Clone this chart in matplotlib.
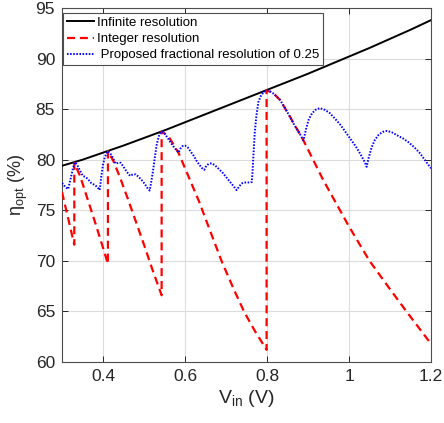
import matplotlib
matplotlib.use("Agg")
import matplotlib.pyplot as plt

plt.rcParams['font.family'] = ['Liberation Sans', 'DejaVu Sans']
plt.rcParams['mathtext.fontset'] = 'custom'
plt.rcParams['mathtext.rm'] = 'Liberation Sans'
plt.rcParams['mathtext.it'] = 'Liberation Sans:italic'

# ---- data ----
inf_v = [0.30, 0.35, 0.40, 0.45, 0.50, 0.55, 0.60, 0.65, 0.70, 0.75, 0.80,
         0.85, 0.90, 0.95, 1.00, 1.05, 1.10, 1.15, 1.20]
inf_eta = [79.4, 80.0, 80.7, 81.4, 82.15, 82.9, 83.7, 84.5, 85.3, 86.1, 86.9,
           87.7, 88.5, 89.35, 90.2, 91.05, 91.95, 92.85, 93.8]

int_v = [0.300, 0.315, 0.330, 0.330, 0.345, 0.360, 0.380, 0.400, 0.412, 0.412,
         0.425, 0.440, 0.460, 0.480, 0.500, 0.520, 0.543, 0.543, 0.560, 0.584,
         0.610, 0.635, 0.660, 0.690, 0.720, 0.745, 0.770, 0.799, 0.799, 0.815,
         0.832, 0.856, 0.889, 0.937, 1.000, 1.050, 1.100, 1.140, 1.200]
int_eta = [76.8, 74.2, 71.6, 79.7, 78.3, 76.4, 73.9, 71.3, 69.7, 80.85,
           79.9, 78.4, 76.2, 73.9, 71.6, 69.2, 66.6, 82.8, 82.3, 80.7,
           78.2, 75.8, 73.1, 69.9, 67.1, 64.9, 63.1, 61.2, 86.85, 86.6,
           85.9, 84.25, 81.9, 78.0, 73.4, 70.0, 67.2, 65.0, 61.8]

frac_v = [0.300, 0.308, 0.315, 0.322, 0.327, 0.332, 0.337, 0.343, 0.351, 0.357,
          0.363, 0.371, 0.380, 0.386, 0.392, 0.396, 0.400, 0.404, 0.408, 0.413,
          0.418, 0.424, 0.431, 0.437, 0.443, 0.450, 0.458, 0.466, 0.473, 0.480,
          0.487, 0.494, 0.502, 0.510, 0.514, 0.518, 0.522, 0.526, 0.531, 0.536,
          0.540, 0.543, 0.550, 0.557, 0.564, 0.572, 0.580, 0.584, 0.589, 0.594,
          0.600, 0.607, 0.614, 0.621, 0.628, 0.635, 0.642, 0.647, 0.652, 0.658,
          0.665, 0.673, 0.682, 0.692, 0.702, 0.712, 0.720, 0.726, 0.732, 0.738,
          0.745, 0.752, 0.758, 0.763, 0.765, 0.767, 0.770, 0.774, 0.779, 0.785,
          0.792, 0.800, 0.806, 0.814, 0.822, 0.832, 0.844, 0.856, 0.867, 0.878,
          0.889, 0.895, 0.902, 0.910, 0.919, 0.929, 0.940, 0.952, 0.965, 0.980,
          0.994, 1.008, 1.020, 1.030, 1.038, 1.043, 1.048, 1.055, 1.063, 1.072,
          1.082, 1.093, 1.105, 1.118, 1.132, 1.146, 1.160, 1.174, 1.188, 1.200]
frac_eta = [77.7, 77.3, 77.1, 78.3, 79.2, 79.75, 79.5, 79.0, 78.4, 78.3,
            78.1, 77.7, 77.5, 77.3, 77.0, 78.4, 79.5, 80.2, 80.6, 80.85,
            80.6, 80.2, 79.6, 79.7, 79.7, 79.3, 78.8, 78.4, 78.55, 78.55,
            78.3, 78.0, 77.6, 77.1, 76.95, 77.9, 78.9, 80.1, 81.5, 82.3,
            82.7, 82.8, 82.6, 82.2, 81.75, 81.3, 80.9, 80.7, 81.1, 81.35,
            81.4, 81.2, 80.8, 80.4, 79.9, 79.5, 79.15, 79.0, 79.4, 79.6,
            79.65, 79.45, 79.1, 78.7, 78.2, 77.7, 77.3, 77.0, 77.35, 77.65,
            77.75, 77.75, 77.75, 77.8, 79.0, 80.5, 82.6, 84.3, 85.7, 86.3,
            86.7, 86.85, 86.8, 86.6, 86.3, 85.9, 85.1, 84.25, 83.4, 82.7,
            81.9, 83.0, 84.0, 84.6, 84.95, 85.1, 84.95, 84.65, 84.1, 83.4,
            82.6, 81.8, 81.1, 80.4, 79.8, 79.3, 80.2, 81.2, 81.95, 82.45,
            82.75, 82.85, 82.7, 82.4, 82.1, 81.7, 81.2, 80.6, 79.8, 79.15]

labels = ['Infinite resolution', 'Integer resolution',
          ' Proposed fractional resolution of 0.25']
x_ticks = [0.4, 0.6, 0.8, 1.0, 1.2]
x_ticklabels = ['0.4', '0.6', '0.8', '1', '1.2']
y_ticks = [60, 65, 70, 75, 80, 85, 90, 95]

# ---- figure ----
fig = plt.figure(figsize=(4.44, 4.23), dpi=100)
ax = fig.add_axes([62 / 444, 1 - 362 / 423, (431 - 62) / 444, (362 - 8) / 423])

ax.plot(inf_v, inf_eta, color='black', lw=1.4, label=labels[0], zorder=3)
ax.plot(int_v, int_eta, color='#ff0000', lw=1.6, ls=(0, (3.6, 2.2)),
        label=labels[1], zorder=4)
ax.plot(frac_v, frac_eta, color='#0000ff', lw=1.4, ls=(0, (0.8, 0.8)),
        label=labels[2], zorder=5)

ax.set_xlim(0.3, 1.2)
ax.set_ylim(60, 95)
ax.set_xticks(x_ticks)
ax.set_xticklabels(x_ticklabels)
ax.set_yticks(y_ticks)

ax.grid(True, color='#dcdcdc', lw=0.8)
ax.set_axisbelow(True)
for s in ax.spines.values():
    s.set_color('#4d4d4d')
    s.set_linewidth(0.8)
ax.tick_params(direction='in', length=4, width=0.7, top=True, right=True,
               labelsize=12.5, colors='#262626', pad=5)

ax.set_xlabel(r'$\mathregular{V_{in}}$ (V)', fontsize=14, color='#262626',
              labelpad=3)
ax.set_ylabel(r'$\mathregular{\eta_{opt}}$ (%)', fontsize=13, color='#262626',
              labelpad=4)

leg = ax.legend(loc='upper left', bbox_to_anchor=(0.0, 0.99), fontsize=9.5,
                fancybox=False, framealpha=1, edgecolor='#4d4d4d',
                handlelength=2.0, handletextpad=0.25, borderpad=0.3,
                labelspacing=0.3, borderaxespad=0.1)
leg.get_frame().set_linewidth(0.8)

fig.savefig('out.png', dpi=100)
